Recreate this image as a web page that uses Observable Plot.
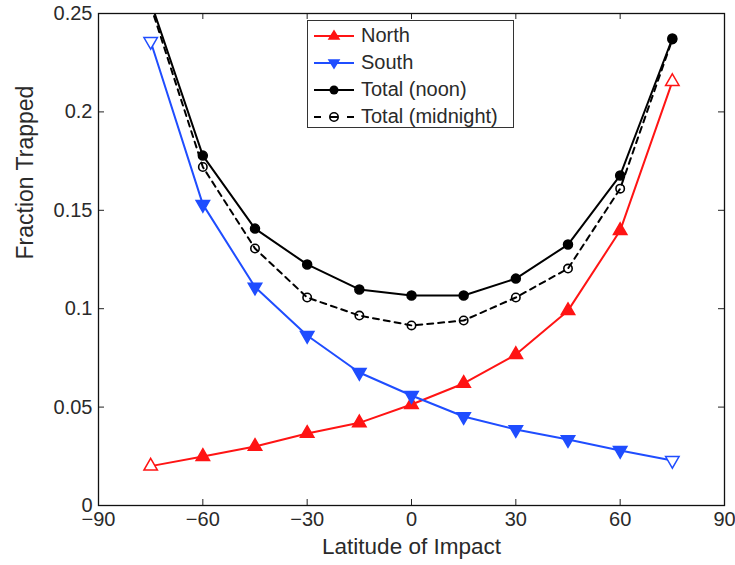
<!DOCTYPE html>
<html>
<head>
<meta charset="utf-8">
<script src="https://cdn.jsdelivr.net/npm/d3@7"></script>
<script src="https://cdn.jsdelivr.net/npm/@observablehq/plot@0.6"></script>
<style>
  body { margin: 0; background: #fff; font-family: "Liberation Sans", Arial, Helvetica, sans-serif; }
  #wrap { position: relative; width: 735px; height: 565px; }
  #legend { position: absolute; left: 307px; top: 20px; width: 207px; height: 108px; border: 1.5px solid #333; background: #fff; box-sizing: border-box; padding-top: 1px; }
  .row { display: flex; align-items: center; height: 27px; font-size: 20px; color: #2a2a2a; }
  .row svg { margin-left: 5px; margin-right: 6px; }
</style>
</head>
<body>
<div id="wrap"><div id="chart"></div><div id="legend"></div></div>
<script>
const latitudes = [-75, -60, -45, -30, -15, 0, 15, 30, 45, 60, 75];
const north    = [0.020, 0.0249, 0.030, 0.0366, 0.042, 0.0513, 0.062, 0.0767, 0.099, 0.1397, 0.2154];
const south    = [0.2358, 0.153, 0.111, 0.0864, 0.0676, 0.0559, 0.0452, 0.0386, 0.0335, 0.028, 0.0229];
const noon     = [0.256, 0.1778, 0.1407, 0.1225, 0.1098, 0.1067, 0.1067, 0.1153, 0.1326, 0.1677, 0.2373];
const midnight = [0.254, 0.172, 0.1306, 0.1057, 0.0965, 0.0915, 0.094, 0.1057, 0.1204, 0.161, 0.2368];
const endpointHollow = [true, false, false, false, false, false, false, false, false, false, true];

const xTicks = [-90, -60, -30, 0, 30, 60, 90];
const xTickLabels = ["\u221290", "\u221260", "\u221230", "0", "30", "60", "90"];
const yTicks = [0, 0.05, 0.1, 0.15, 0.2, 0.25];
const yTickLabels = ["0", "0.05", "0.1", "0.15", "0.2", "0.25"];

const seriesNames = ["North", "South", "Total (noon)", "Total (midnight)"];
const RED = "#ff1414", BLUE = "#1f4dff", BLACK = "#000";

const mk = (vals) => latitudes.map((x, i) => ({x, y: vals[i], hollow: endpointHollow[i]}));
const N = mk(north), S = mk(south), T = mk(noon), M = mk(midnight);

const frameH = 565 - 13 - 60, frameW = 735 - 98 - 11;

const chart = Plot.plot({
  width: 735, height: 565,
  marginLeft: 98, marginRight: 11, marginTop: 13, marginBottom: 60,
  style: {fontFamily: '"Liberation Sans", Arial, Helvetica, sans-serif', fontSize: "20px", color: "#2a2a2a", background: "#fff"},
  x: {domain: [-90, 90], label: null},
  y: {domain: [0, 0.25], label: null},
  marks: [
    Plot.axisX(xTicks, {tickSize: 0, tickPadding: 6, tickFormat: (d, i) => xTickLabels[i], fontSize: 20, label: null}),
    Plot.axisY(yTicks, {tickSize: 0, tickPadding: 6, tickFormat: (d, i) => yTickLabels[i], fontSize: 20, label: null}),
    // inward ticks bottom/top/left/right
    Plot.ruleX(xTicks.slice(1, -1), {stroke: "#222", strokeWidth: 1, insetTop: frameH - 6}),
    Plot.ruleX(xTicks.slice(1, -1), {stroke: "#222", strokeWidth: 1, insetBottom: frameH - 6}),
    Plot.ruleY(yTicks.slice(1, -1), {stroke: "#222", strokeWidth: 1, insetRight: frameW - 6}),
    Plot.ruleY(yTicks.slice(1, -1), {stroke: "#222", strokeWidth: 1, insetLeft: frameW - 6}),
    // lines
    Plot.line(N, {x: "x", y: "y", stroke: RED, strokeWidth: 2, clip: true}),
    Plot.line(S, {x: "x", y: "y", stroke: BLUE, strokeWidth: 2, clip: true}),
    Plot.line(M, {x: "x", y: "y", stroke: BLACK, strokeWidth: 2, strokeDasharray: "6,5", clip: true}),
    Plot.line(T, {x: "x", y: "y", stroke: BLACK, strokeWidth: 2, clip: true}),
    // markers
    Plot.dot(N, {x: "x", y: "y", symbol: "triangle", r: 5, fill: d => d.hollow ? "#fff" : RED, stroke: RED, strokeWidth: 1.5, clip: true}),
    Plot.dot(S, {x: "x", y: "y", symbol: "triangle", rotate: 180, r: 5, fill: d => d.hollow ? "#fff" : BLUE, stroke: BLUE, strokeWidth: 1.5, clip: true}),
    Plot.dot(M, {x: "x", y: "y", symbol: "circle", r: 4.2, fill: "none", stroke: BLACK, strokeWidth: 1.6, clip: true}),
    Plot.dot(T, {x: "x", y: "y", symbol: "circle", r: 4.5, fill: BLACK, stroke: BLACK, clip: true}),
    Plot.frame({stroke: "#111", strokeWidth: 1.3}),
    // axis titles
    Plot.text(["Latitude of Impact"], {frameAnchor: "bottom", dy: 48, text: d => d, fontSize: 22.5, fill: "#2a2a2a"}),
    Plot.text(["Fraction Trapped"], {frameAnchor: "left", dx: -73, rotate: -90, text: d => d, fontSize: 23, fill: "#2a2a2a"})
  ]
});
document.getElementById("chart").appendChild(chart);

// legend
const legendDefs = [
  {name: seriesNames[0], color: RED, dashed: false, marker: "up"},
  {name: seriesNames[1], color: BLUE, dashed: false, marker: "down"},
  {name: seriesNames[2], color: BLACK, dashed: false, marker: "dot"},
  {name: seriesNames[3], color: BLACK, dashed: true, marker: "ring"}
];
const lg = document.getElementById("legend");
for (const d of legendDefs) {
  const row = document.createElement("div");
  row.className = "row";
  let m = "";
  if (d.marker === "up") m = `<path d="M21,5 L26,13 L16,13 Z" fill="${d.color}" stroke="${d.color}" stroke-width="1.5"/>`;
  if (d.marker === "down") m = `<path d="M21,15 L26,7 L16,7 Z" fill="${d.color}" stroke="${d.color}" stroke-width="1.5"/>`;
  if (d.marker === "dot") m = `<circle cx="21" cy="10" r="4.5" fill="${d.color}"/>`;
  if (d.marker === "ring") m = `<circle cx="21" cy="10" r="4.2" fill="none" stroke="${d.color}" stroke-width="1.6"/>`;
  const line = d.dashed
    ? `<line x1="1" y1="10" x2="8" y2="10" stroke="${d.color}" stroke-width="2"/><line x1="34" y1="10" x2="41" y2="10" stroke="${d.color}" stroke-width="2"/><line x1="17" y1="10" x2="25" y2="10" stroke="${d.color}" stroke-width="2"/>`
    : `<line x1="1" y1="10" x2="41" y2="10" stroke="${d.color}" stroke-width="2"/>`;
  row.innerHTML = `<svg width="42" height="20">${line}${m}</svg><span>${d.name}</span>`;
  lg.appendChild(row);
}
</script>
</body>
</html>
